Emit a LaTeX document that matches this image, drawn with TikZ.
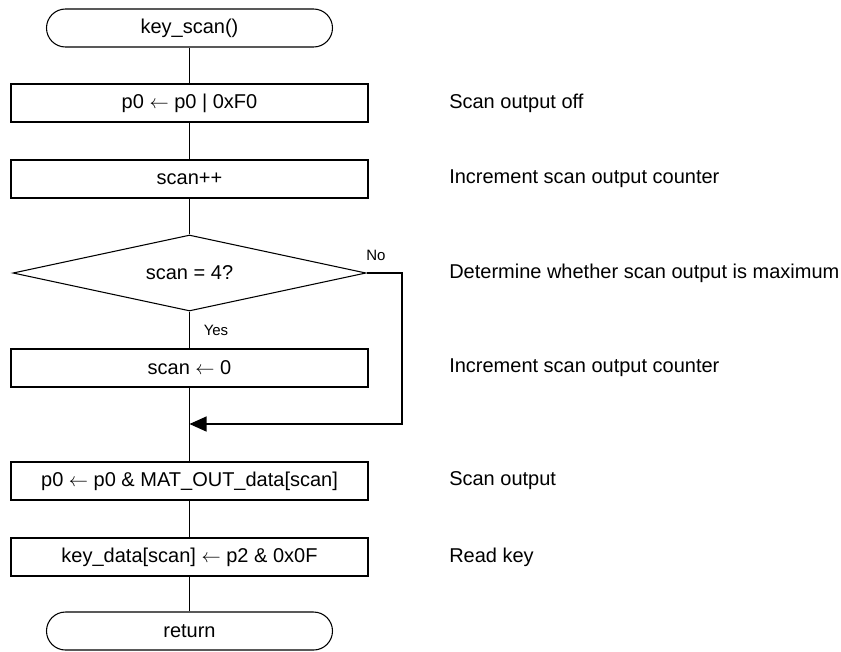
\documentclass[tikz,border=0pt]{standalone}
\usepackage{fontspec}
\setmainfont{Liberation Sans}
\usetikzlibrary{shapes.geometric,arrows.meta}
\newcommand{\larr}{\ensuremath{\leftarrow}}
\tikzset{
  every picture/.style={x=0.75pt,y=-0.75pt},
  line/.style={draw=black,line width=0.8pt},
  term/.style={line,rectangle,rounded corners=14.25pt,minimum width=214.5pt,minimum height=28.5pt,inner sep=0pt,font=\fontsize{15pt}{18pt}\selectfont},
  proc/.style={line,rectangle,minimum width=267.75pt,minimum height=28.5pt,inner sep=0pt,font=\fontsize{15pt}{18pt}\selectfont},
  decide/.style={line,diamond,shape aspect=4.6,minimum width=264.75pt,minimum height=57pt,inner sep=0pt,font=\fontsize{15pt}{18pt}\selectfont},
  note/.style={anchor=west,inner sep=0pt,font=\fontsize{15pt}{18pt}\selectfont},
  small/.style={inner sep=0pt,font=\fontsize{11.25pt}{13pt}\selectfont},
  conn/.style={line},
  arr/.style={line,-{Triangle[length=12.75pt,width=11.25pt]}}
}
\begin{document}
\begin{tikzpicture}
\useasboundingbox (0,0) rectangle (841,651);
\node[term]   (start) at (189.5,28)  {key\_scan()};
\node[proc]   (b1)    at (189.5,103) {p0 \larr\ p0 | 0xF0};
\node[proc]   (b2)    at (189.5,179) {scan++};
\node[decide] (d)     at (189.5,273) {scan = 4?};
\node[proc]   (b3)    at (189.5,368) {scan \larr\ 0};
\node[proc]   (b4)    at (189.5,481) {p0 \larr\ p0 \& MAT\_OUT\_data[scan]};
\node[proc]   (b5)    at (189.5,557) {key\_data[scan] \larr\ p2 \& 0x0F};
\node[term]   (stop)  at (189.5,631) {return};
\coordinate (j) at (189.5,424);
\coordinate (nr) at (402,273);

\draw[conn] (start) -- (b1);
\draw[conn] (b1) -- (b2);
\draw[conn] (b2) -- (d);
\draw[conn] (d) -- (b3);
\draw[conn] (b3) -- (b4);
\draw[conn] (b4) -- (b5);
\draw[conn] (b5) -- (stop);
\draw[arr] (d.east) -- (nr) |- (j);

\node[small] (no)  at (376,255) {No};
\node[small] (yes) at (216,330) {Yes};

\node[note] (n1) at (449,103) {Scan output off};
\node[note] (n2) at (449,179) {Increment scan output counter};
\node[note] (n3) at (449,273) {Determine whether scan output is maximum};
\node[note] (n4) at (449,368) {Increment scan output counter};
\node[note] (n5) at (449,481) {Scan output};
\node[note] (n6) at (449,557) {Read key};
\end{tikzpicture}
\end{document}
